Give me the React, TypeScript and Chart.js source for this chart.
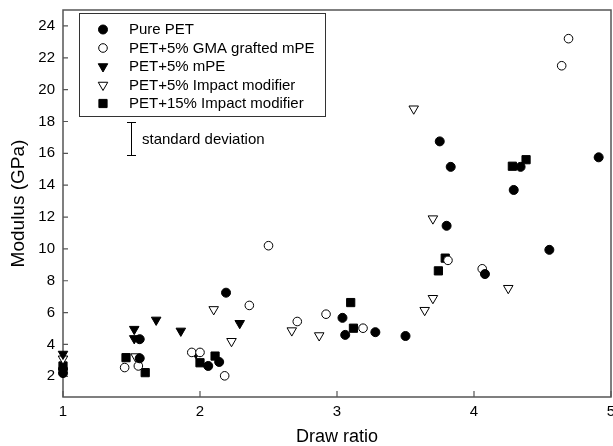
import React, { useEffect, useRef } from "react";
import { Chart, registerables } from "chart.js";
import { drawPoint } from "chart.js/helpers";

Chart.register(...registerables);

const FONT = '"Liberation Sans", Arial, sans-serif';

const seriesNames = [
  "Pure PET",
  "PET+5% GMA grafted mPE",
  "PET+5% mPE",
  "PET+5% Impact modifier",
  "PET+15% Impact modifier",
];

const purePetX = [1, 1, 1.56, 1.56, 2.19, 2.06, 2.14, 3.04, 3.06, 3.28, 3.5, 3.75, 3.83, 3.8, 4.08, 4.29, 4.34, 4.55, 4.91];
const purePetY = [2.2, 2.45, 4.33, 3.13, 7.25, 2.65, 2.9, 5.67, 4.6, 4.77, 4.53, 16.75, 15.15, 11.45, 8.42, 13.7, 15.15, 9.94, 15.75];

const gmaX = [1.45, 1.55, 1.94, 2.0, 2.18, 2.36, 2.5, 2.71, 2.92, 3.19, 3.81, 4.06, 4.64, 4.69];
const gmaY = [2.55, 2.65, 3.5, 3.5, 2.03, 6.45, 10.2, 5.44, 5.9, 5.02, 9.28, 8.75, 21.5, 23.2];

const mpeX = [1, 1.52, 1.52, 1.68, 1.86, 1.97, 2.29];
const mpeY = [3.4, 4.96, 4.38, 5.54, 4.85, 3.45, 5.33];

const impact5X = [1, 1.53, 2.1, 2.23, 2.67, 2.87, 3.56, 3.64, 3.7, 3.7, 4.25];
const impact5Y = [3.1, 3.24, 6.2, 4.2, 4.87, 4.56, 18.8, 6.15, 6.9, 11.9, 7.53];

const impact15X = [1, 1.46, 1.6, 2.0, 2.11, 3.1, 3.12, 3.74, 3.79, 4.28, 4.38];
const impact15Y = [2.65, 3.17, 2.23, 2.85, 3.27, 6.63, 5.02, 8.62, 9.42, 15.19, 15.6];

const xTicks = [1, 2, 3, 4, 5];
const yTicks = [2, 4, 6, 8, 10, 12, 14, 16, 18, 20, 22, 24];

const markerStyles = [
  { pointStyle: "circle", rotation: 0, radius: 4.5, fill: "#000" },
  { pointStyle: "circle", rotation: 0, radius: 4.3, fill: "#fff" },
  { pointStyle: "triangle", rotation: 180, radius: 5.5, fill: "#000" },
  { pointStyle: "triangle", rotation: 180, radius: 5.5, fill: "#fff" },
  { pointStyle: "rect", rotation: 0, radius: 5.8, fill: "#000" },
];

const zip = (xs: number[], ys: number[]) => xs.map((x, i) => ({ x, y: ys[i] }));
const noPad = () => ({ left: 0, right: 0, top: 0, bottom: 0 });

const framePlugin = {
  id: "frame",
  beforeDatasetsDraw(chart: any) {
    const { ctx, chartArea } = chart;
    const { left, right, top, bottom } = chartArea;
    const xs = chart.scales.x;
    const ys = chart.scales.y;
    ctx.save();
    ctx.strokeStyle = "#555";
    ctx.lineWidth = 1.5;
    ctx.strokeRect(left, top, right - left, bottom - top);
    ctx.lineWidth = 1.2;
    ctx.beginPath();
    for (const v of xTicks) {
      const px = xs.getPixelForValue(v);
      ctx.moveTo(px, bottom);
      ctx.lineTo(px, bottom - 6);
    }
    for (const v of yTicks) {
      const py = ys.getPixelForValue(v);
      ctx.moveTo(left, py);
      ctx.lineTo(left + 5, py);
    }
    ctx.stroke();
    ctx.restore();
  },
  afterDatasetsDraw(chart: any) {
    const { ctx } = chart;
    ctx.save();
    ctx.fillStyle = "#fff";
    ctx.fillRect(79, 13, 246, 104);
    ctx.strokeStyle = "#333";
    ctx.lineWidth = 1;
    ctx.strokeRect(79.5, 13.5, 246, 103);
    ctx.font = `15px ${FONT}`;
    ctx.textBaseline = "middle";
    ctx.textAlign = "left";
    seriesNames.forEach((name, i) => {
      const y = 29.5 + i * 18.5;
      const m = markerStyles[i];
      ctx.fillStyle = m.fill;
      ctx.strokeStyle = "#000";
      drawPoint(ctx, { pointStyle: m.pointStyle, rotation: m.rotation, radius: m.radius, borderWidth: 1 } as any, 103, y);
      ctx.fillStyle = "#000";
      ctx.fillText(name, 129, y + 0.5);
    });
    ctx.strokeStyle = "#000";
    ctx.lineWidth = 1;
    ctx.beginPath();
    ctx.moveTo(131.5, 122);
    ctx.lineTo(131.5, 156);
    ctx.moveTo(127, 122.5);
    ctx.lineTo(136, 122.5);
    ctx.moveTo(127, 155.5);
    ctx.lineTo(136, 155.5);
    ctx.stroke();
    ctx.fillStyle = "#000";
    ctx.fillText("standard deviation", 142, 140);
    ctx.restore();
  },
};

export default function App() {
  const ref = useRef<HTMLCanvasElement | null>(null);
  useEffect(() => {
    if (!ref.current) return;
    const sets = [
      zip(purePetX, purePetY),
      zip(gmaX, gmaY),
      zip(mpeX, mpeY),
      zip(impact5X, impact5Y),
      zip(impact15X, impact15Y),
    ];
    const chart = new Chart(ref.current, {
      type: "scatter",
      data: {
        datasets: sets.map((d, i) => ({
          label: seriesNames[i],
          data: d,
          pointStyle: markerStyles[i].pointStyle as any,
          rotation: markerStyles[i].rotation,
          pointRadius: markerStyles[i].radius,
          pointBackgroundColor: markerStyles[i].fill,
          pointBorderColor: "#000",
          pointBorderWidth: 1,
          clip: 8,
        })),
      },
      options: {
        animation: false,
        responsive: false,
        devicePixelRatio: 1,
        layout: { autoPadding: false, padding: { top: 10, right: 2, left: 0, bottom: 0 } },
        plugins: { legend: { display: false }, tooltip: { enabled: false } },
        scales: {
          x: {
            type: "linear",
            min: 1,
            max: 5,
            grid: { display: false, drawTicks: false },
            border: { display: false },
            afterBuildTicks: (s: any) => {
              s.ticks = xTicks.map((v) => ({ value: v }));
            },
            afterFit: (s: any) => {
              s.height = 49;
              s.paddingLeft = 0;
              s.paddingRight = 0;
              s.getPadding = noPad;
            },
            ticks: { color: "#000", font: { family: FONT, size: 15 }, padding: 6, maxRotation: 0 },
            title: { display: true, text: "Draw ratio", color: "#000", font: { family: FONT, size: 18 }, padding: { top: 0, bottom: -2 } },
          },
          y: {
            type: "linear",
            min: 0.7,
            max: 25.0,
            grid: { display: false, drawTicks: false },
            border: { display: false },
            afterBuildTicks: (s: any) => {
              s.ticks = yTicks.map((v) => ({ value: v }));
            },
            afterFit: (s: any) => {
              s.width = 63;
              s.paddingTop = 0;
              s.paddingBottom = 0;
              s.getPadding = noPad;
            },
            ticks: { color: "#000", font: { family: FONT, size: 15 }, padding: 8 },
            title: { display: true, text: "Modulus (GPa)", color: "#000", font: { family: FONT, size: 19 }, padding: { top: 7, bottom: 0 } },
          },
        },
      },
      plugins: [framePlugin],
    });
    return () => chart.destroy();
  }, []);
  return (
    <div style={{ position: "fixed", left: 0, top: 0, width: 613, height: 446, background: "#fff" }}>
      <canvas ref={ref} width={613} height={446} style={{ width: 613, height: 446, display: "block" }} />
    </div>
  );
}
